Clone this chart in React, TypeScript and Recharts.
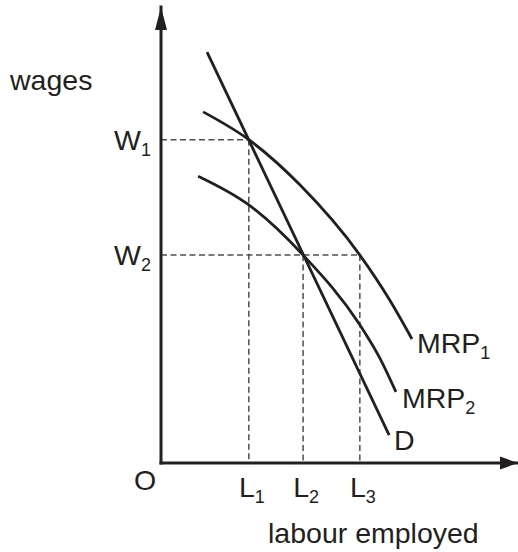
import React from 'react';
import { ComposedChart, Line, XAxis, YAxis, ReferenceLine, ReferenceDot, Label } from 'recharts';

// ---- data (axis units 0..100) ----
const L_VALUES = [24.6, 39.8, 55.7];
const L_BASE = ['L', 'L', 'L'];
const L_SUB = ['1', '2', '3'];
const W_VALUES = [70.9, 45.6];
const W_BASE = ['W', 'W'];
const W_SUB = ['1', '2'];

const D_X = [12.9, 63.9];
const D_Y = [90.1, 6.1];
const MRP1_X = [11.8, 24.6, 38.9, 55.7, 64.1, 70.3];
const MRP1_Y = [77.0, 70.9, 61.0, 45.6, 35.7, 27.2];
const MRP2_X = [10.4, 24.6, 39.8, 55.7, 61.3, 65.8];
const MRP2_Y = [62.9, 56.6, 45.6, 30.3, 23.0, 15.6];

const SERIES_NAMES = ['MRP', 'MRP', 'D'];
const SERIES_SUBS = ['1', '2', ''];

const FONT = '"Liberation Sans", Arial, Helvetica, sans-serif';
const INK = '#231f20';
const DASH = '#4f4f51';
const FS = 28.5;
const SUB_FS = 18;

const toPts = (xs: number[], ys: number[]) => xs.map((x, i) => ({ x, y: ys[i] }));
const dData = toPts(D_X, D_Y);
const mrp1Data = toPts(MRP1_X, MRP1_Y);
const mrp2Data = toPts(MRP2_X, MRP2_Y);

const Sub = ({ children }: { children: React.ReactNode }) => (
  <tspan fontSize={SUB_FS} dy={6}>{children}</tspan>
);

const XTick = (props: any) => {
  const { x, y, payload } = props;
  const i = L_VALUES.indexOf(payload.value);
  if (i < 0) return null;
  return (
    <text x={x + 3} y={y + 34} textAnchor="middle" fontFamily={FONT} fontSize={FS} fill={INK}>
      {L_BASE[i]}
      <Sub>{L_SUB[i]}</Sub>
    </text>
  );
};

const YTick = (props: any) => {
  const { x, y, payload } = props;
  const i = W_VALUES.indexOf(payload.value);
  if (i < 0) return null;
  return (
    <text x={x - 10} y={y + 10} textAnchor="end" fontFamily={FONT} fontSize={FS} fill={INK}>
      {W_BASE[i]}
      <Sub>{W_SUB[i]}</Sub>
    </text>
  );
};

const makeSeriesLabel = (i: number, dx: number, dy: number) => (p: any) => (
  <text x={p.cx + dx} y={p.cy + dy} fontFamily={FONT} fontSize={FS} fill={INK}>
    {SERIES_NAMES[i]}
    {SERIES_SUBS[i] ? <Sub>{SERIES_SUBS[i]}</Sub> : null}
  </text>
);

const dashProps = { stroke: DASH, strokeWidth: 1.5, strokeDasharray: '6 3.5', ifOverflow: 'visible' as const };
const curveProps = {
  dataKey: 'y',
  stroke: INK,
  strokeWidth: 2.8,
  dot: false,
  activeDot: false,
  isAnimationActive: false,
  type: 'monotone' as const,
};

export default function App() {
  const last = (a: number[]) => a[a.length - 1];
  return (
    <div style={{ position: 'absolute', left: 0, top: 0, width: 518, height: 552, background: '#fff' }}>
      <ComposedChart width={518} height={552} margin={{ top: 7, right: 0, left: 101, bottom: 59 }}>
        <XAxis
          type="number"
          dataKey="x"
          domain={[0, 100]}
          ticks={L_VALUES}
          interval={0}
          height={30}
          allowDataOverflow
          axisLine={{ stroke: INK, strokeWidth: 3, strokeLinecap: 'square' }}
          tickLine={false}
          tickSize={0}
          tickMargin={0}
          tick={(p: any) => <XTick {...p} />}
        >
          <Label
            content={(p: any) => {
              const vb = p.viewBox || { x: 161, y: 463 };
              return (
                <g>
                  <text x={vb.x - 16} y={vb.y + 27} textAnchor="middle" fontFamily={FONT} fontSize={FS} fill={INK}>O</text>
                  <text x={vb.x + 107} y={vb.y + 80} fontFamily={FONT} fontSize={FS} fill={INK}>labour employed</text>
                </g>
              );
            }}
          />
        </XAxis>
        <YAxis
          type="number"
          dataKey="y"
          domain={[0, 100]}
          ticks={W_VALUES}
          interval={0}
          width={60}
          allowDataOverflow
          axisLine={{ stroke: INK, strokeWidth: 3, strokeLinecap: 'square' }}
          tickLine={false}
          tickSize={0}
          tickMargin={0}
          tick={(p: any) => <YTick {...p} />}
        >
          <Label
            content={(p: any) => {
              const vb = p.viewBox || { x: 101, y: 7, width: 60 };
              return (
                <text x={vb.x + vb.width - 151} y={vb.y + 83} fontFamily={FONT} fontSize={FS} fill={INK}>wages</text>
              );
            }}
          />
        </YAxis>

        <ReferenceLine segment={[{ x: 0, y: W_VALUES[0] }, { x: L_VALUES[0], y: W_VALUES[0] }]} {...dashProps} />
        <ReferenceLine segment={[{ x: L_VALUES[0], y: W_VALUES[0] }, { x: L_VALUES[0], y: 0 }]} {...dashProps} />
        <ReferenceLine segment={[{ x: 0, y: W_VALUES[1] }, { x: L_VALUES[2], y: W_VALUES[1] }]} {...dashProps} />
        <ReferenceLine segment={[{ x: L_VALUES[1], y: W_VALUES[1] }, { x: L_VALUES[1], y: 0 }]} {...dashProps} />
        <ReferenceLine segment={[{ x: L_VALUES[2], y: W_VALUES[1] }, { x: L_VALUES[2], y: 0 }]} {...dashProps} />

        <Line data={mrp1Data} {...curveProps} />
        <Line data={mrp2Data} {...curveProps} />
        <Line data={dData} {...curveProps} type="linear" />

        <ReferenceDot x={last(MRP1_X)} y={last(MRP1_Y)} r={0} ifOverflow="visible" shape={makeSeriesLabel(0, 5, 14)} />
        <ReferenceDot x={last(MRP2_X)} y={last(MRP2_Y)} r={0} ifOverflow="visible" shape={makeSeriesLabel(1, 6, 16)} />
        <ReferenceDot x={last(D_X)} y={last(D_Y)} r={0} ifOverflow="visible" shape={makeSeriesLabel(2, 5, 15)} />

        <ReferenceDot
          x={0}
          y={100}
          r={0}
          ifOverflow="visible"
          shape={(p: any) => (
            <polygon points={`${p.cx},${p.cy} ${p.cx - 6},${p.cy + 23} ${p.cx + 6},${p.cy + 23}`} fill={INK} />
          )}
        />
        <ReferenceDot
          x={100}
          y={0}
          r={0}
          ifOverflow="visible"
          shape={(p: any) => (
            <polygon points={`${p.cx},${p.cy} ${p.cx - 18},${p.cy - 6.5} ${p.cx - 18},${p.cy + 6.5}`} fill={INK} />
          )}
        />
      </ComposedChart>
    </div>
  );
}
